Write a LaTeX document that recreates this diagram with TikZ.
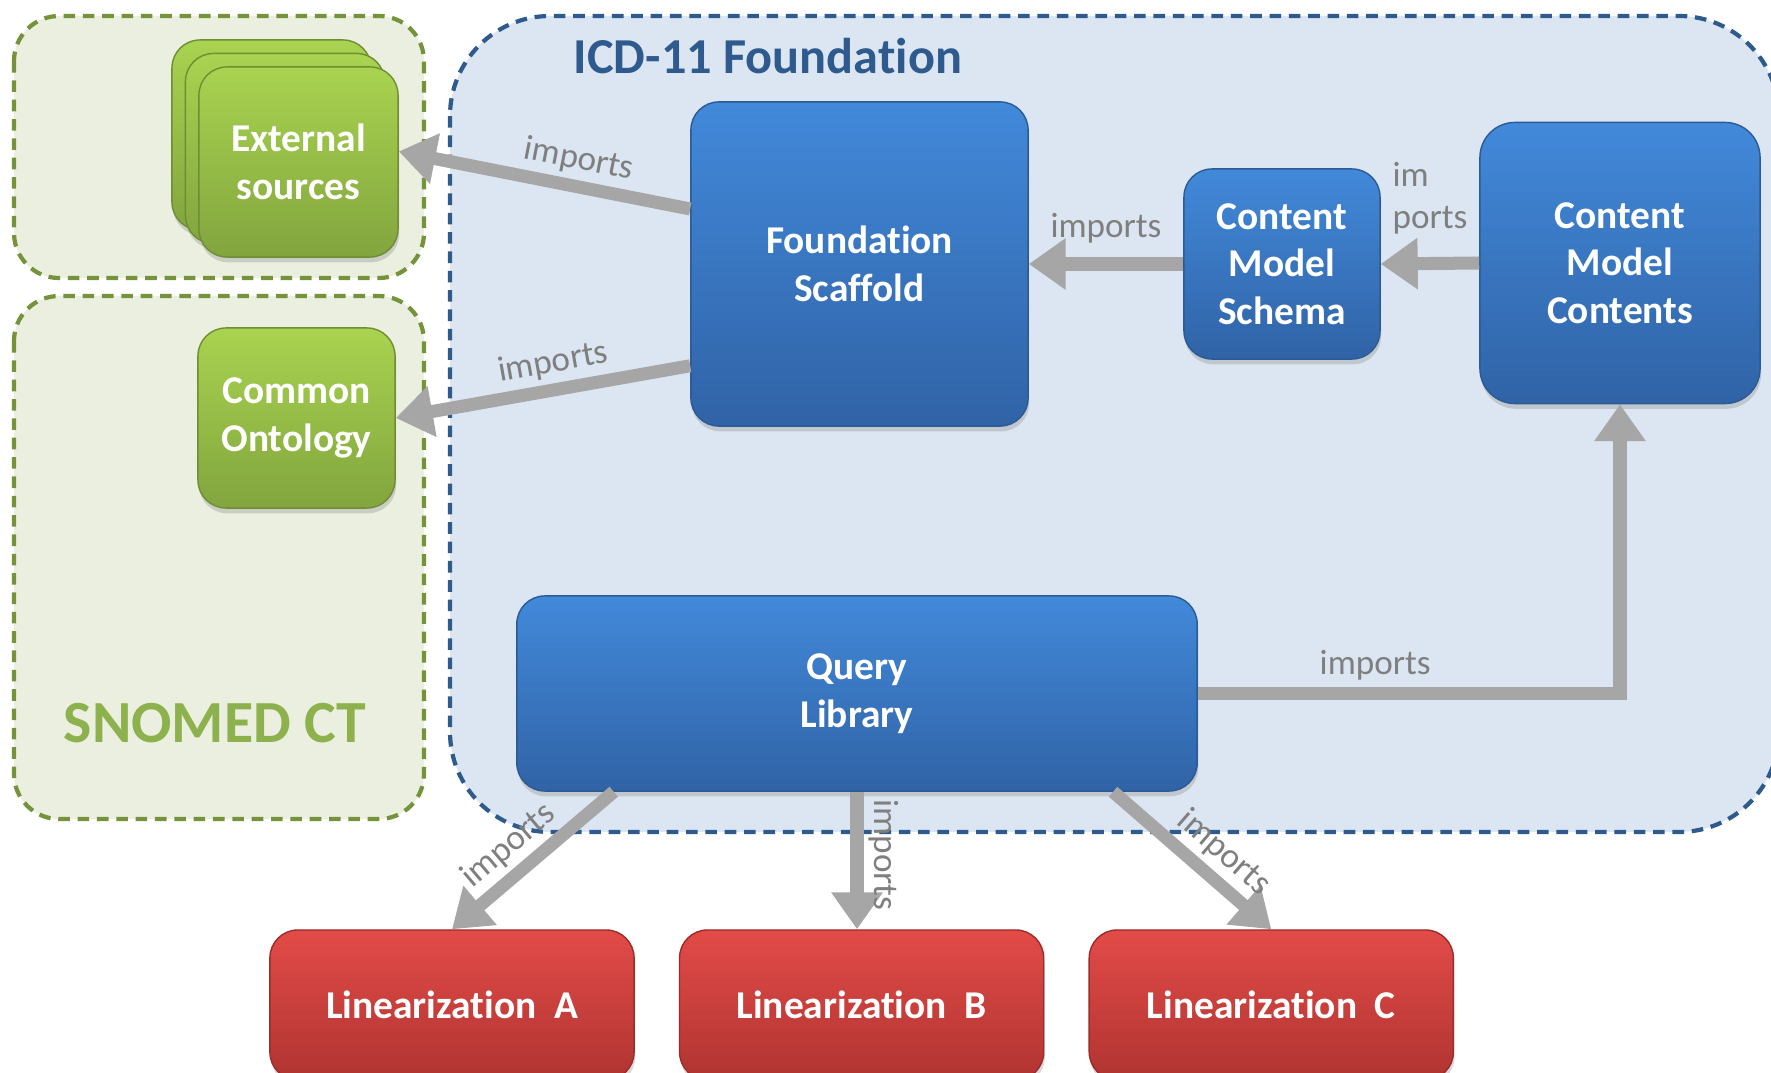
\documentclass[tikz,border=0pt]{standalone}
\usepackage{fontspec}
\setmainfont{Carlito}[Ligatures=NoCommon]
\usepackage{xcolor}
\usetikzlibrary{positioning,arrows.meta,shadows}

\definecolor{bluetop}{HTML}{4289DA}
\definecolor{bluebot}{HTML}{3063A6}
\definecolor{blueline}{HTML}{2C5A93}
\definecolor{greentop}{HTML}{A9D350}
\definecolor{greenbot}{HTML}{82A53E}
\definecolor{greenline}{HTML}{6E8D35}
\definecolor{redtop}{HTML}{E24B48}
\definecolor{redbot}{HTML}{B03431}
\definecolor{redline}{HTML}{9A2C2A}
\definecolor{areagreen}{HTML}{EBEFE0}
\definecolor{areablue}{HTML}{DCE6F2}
\definecolor{dashgreen}{HTML}{76933C}
\definecolor{dashblue}{HTML}{2E5A8C}
\definecolor{arrowgray}{HTML}{A6A6A6}
\definecolor{labelgray}{HTML}{7F7F7F}
\definecolor{titleblue}{HTML}{2F5A8E}
\definecolor{snomedgreen}{HTML}{8DB14C}

\begin{document}
\begin{tikzpicture}[x=0.01cm,y=-0.01cm,
  module/.style={rounded corners=0.28cm,draw=blueline,thin,
    top color=bluetop,bottom color=bluebot,text=white,align=center,
    inner sep=0pt,font=\bfseries\fontsize{11.2}{13.5}\selectfont,
    drop shadow={opacity=0.3,shadow xshift=0.3pt,shadow yshift=-1.5pt}},
  source/.style={module,draw=greenline,top color=greentop,bottom color=greenbot},
  linbox/.style={module,draw=redline,top color=redtop,bottom color=redbot,
    minimum width=3.64cm,minimum height=1.5cm},
  area/.style={dashed,line width=1.2pt,dash pattern=on 3.3pt off 2.2pt},
  imp/.style={draw=arrowgray,line width=3.7pt,-{Triangle[width=14pt,length=10.5pt]}},
  lbl/.style={text=labelgray,font=\fontsize{10}{12}\selectfont,inner sep=1.5pt}]

  \useasboundingbox (0,0) rectangle (1771,1073);
  \clip (0,0) rectangle (1771,1073);

  % areas
  \draw[area,draw=dashblue,fill=areablue,rounded corners=1cm] (450,16) rectangle (1779,832);
  \draw[area,draw=dashgreen,fill=areagreen,rounded corners=0.45cm] (14,16) rectangle (424,278);
  \draw[area,draw=dashgreen,fill=areagreen,rounded corners=0.45cm] (14,296) rectangle (424,819);
  \node[text=titleblue,font=\bfseries\fontsize{14.3}{17}\selectfont] (title) at (768,56) {ICD-11 Foundation};
  \node[text=snomedgreen,font=\bfseries\fontsize{17}{20}\selectfont] (snomed) at (215,723) {SNOMED CT};

  % SNOMED side
  \node[source,minimum width=1.99cm,minimum height=1.90cm] (extsrc3) at (271.5,135) {};
  \node[source,minimum width=1.99cm,minimum height=1.90cm] (extsrc2) at (285,148.5) {};
  \node[source,minimum width=1.99cm,minimum height=1.90cm] (extsrc) at (298.5,162) {External\\sources};
  \node[source,minimum width=1.97cm,minimum height=1.80cm] (ontology) at (296.5,418) {Common\\Ontology};

  % foundation
  \node[module,minimum width=3.37cm,minimum height=3.24cm] (scaffold) at (859.5,264) {Foundation\\Scaffold};
  \node[module,minimum width=1.96cm,minimum height=1.90cm] (schema) at (1282,264) {Content\\Model\\Schema};
  \node[module,minimum width=2.80cm,minimum height=2.81cm,rounded corners=0.35cm] (contents) at (1620,263) {Content\\Model\\Contents};
  \node[module,minimum width=6.80cm,minimum height=1.95cm] (query) at (857,693.5) {Query\\Library};

  % linearizations
  \node[linbox] (linA) at (452,1005) {Linearization\ \ A};
  \node[linbox,right=0.44cm of linA] (linB) {Linearization\ \ B};
  \node[linbox,right=0.44cm of linB] (linC) {Linearization\ \ C};

  % imports
  \draw[imp] (scaffold.162) -- node[lbl,sloped,above,pos=0.4] {imports} (extsrc.6);
  \draw[imp] (scaffold.211) -- node[lbl,sloped,above,pos=0.45] {imports} (ontology.east);
  \draw[imp] (schema.west) -- node[lbl,above=2.5pt] {imports} (scaffold.east);
  \draw[imp] (contents.west) -- node[lbl,above=5pt,align=left] {im\\ports} (schema.east);
  \draw[imp] (query.east) -| node[lbl,above=0.5pt,pos=0.21] {imports} (contents.south);
  \draw[imp] (query.202) -- node[lbl,sloped,above,pos=0.54] {imports} (linA.north);
  \draw[imp] (query.south) -- node[lbl,rotate=-90,anchor=south,pos=0.46] {imports} (query.south |- linB.north);
  \draw[imp] (query.-21.5) -- node[lbl,sloped,above,pos=0.59] {imports} (linC.north);
\end{tikzpicture}
\end{document}
